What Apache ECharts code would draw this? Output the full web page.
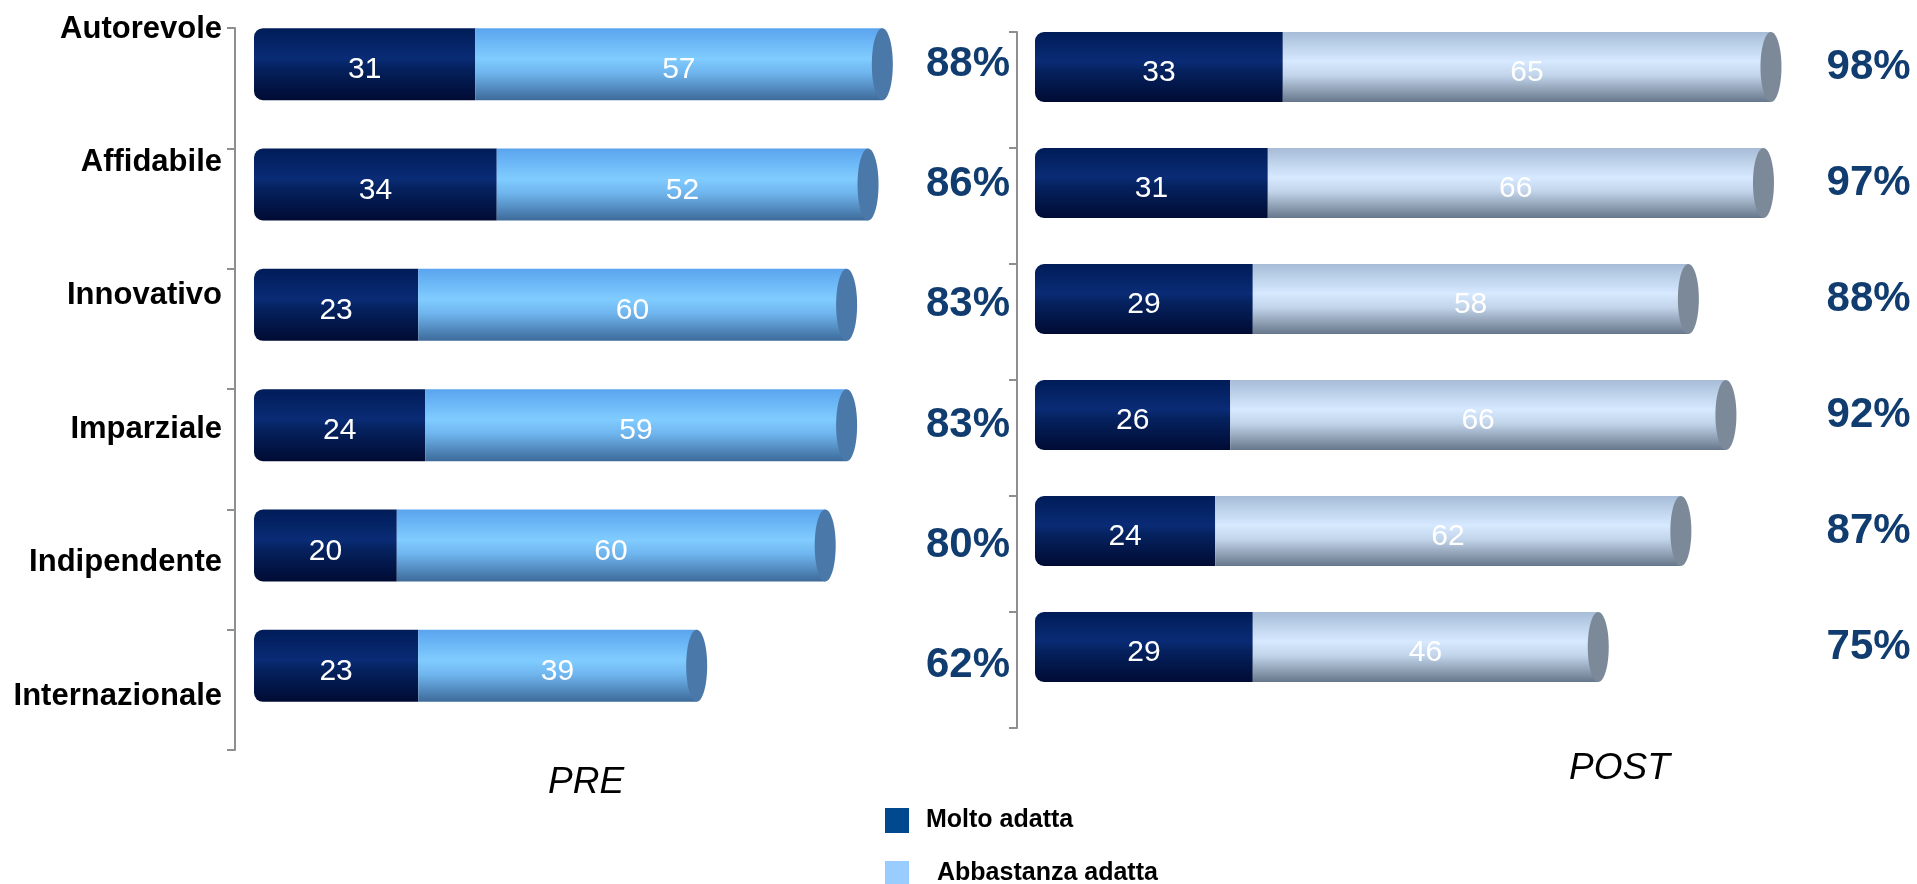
<!DOCTYPE html>
<html>
<head>
<meta charset="utf-8">
<script src="https://cdn.jsdelivr.net/npm/echarts@6/dist/echarts.min.js"></script>
<style>
html,body{margin:0;padding:0;background:#fff;}
#chart{width:1917px;height:884px;}
</style>
</head>
<body>
<div id="chart"></div>
<script>
// ---- data ----
const categories = ['Autorevole','Affidabile','Innovativo','Imparziale','Indipendente','Internazionale'];
const seriesNames = ['Molto adatta','Abbastanza adatta'];
const preMolto = [31, 34, 23, 24, 20, 23];
const preAbbastanza = [57, 52, 60, 59, 60, 39];
const preTotalLabels = ['88%','86%','83%','83%','80%','62%'];
const postMolto = [33, 31, 29, 26, 24, 29];
const postAbbastanza = [65, 66, 58, 66, 62, 46];
const postTotalLabels = ['98%','97%','88%','92%','87%','75%'];
const panelTitles = ['PRE','POST'];

// ---- styles ----
const FONT = '"Liberation Sans", Arial, sans-serif';
const grad = (stops) => new echarts.graphic.LinearGradient(0,0,0,1, stops.map((c)=>({offset:c[0], color:c[1]})));
const darkFill = () => grad([[0,'#001c58'],[0.42,'#0a2c76'],[0.55,'#05225f'],[1,'#000b33']]);
const preLightFill = () => grad([[0,'#5aa4ee'],[0.42,'#80ccff'],[0.62,'#6fb5ee'],[1,'#3d6a9a']]);
const postLightFill = () => grad([[0,'#a7bcd7'],[0.42,'#d6e9ff'],[0.62,'#c2d4ea'],[1,'#67778b']]);
const preCapColor = '#4a78a8';
const postCapColor = '#7b8999';
const pctColor = '#113c6f';

const preTotals = preMolto.map((v,i)=>v+preAbbastanza[i]);
const postTotals = postMolto.map((v,i)=>v+postAbbastanza[i]);

function capSeries(totals, gridIdx, color, barH){
  return {
    type:'custom', xAxisIndex:gridIdx, yAxisIndex:gridIdx, z:4, silent:true,
    data: totals.map((t,i)=>[t,i]),
    renderItem: function(params, api){
      const p = api.coord([api.value(0), api.value(1)]);
      return {type:'ellipse', shape:{cx:p[0], cy:p[1], rx:10.5, ry:barH/2}, style:{fill:color}};
    }
  };
}
function pctSeries(labels, gridIdx, xVal){
  return {
    type:'custom', xAxisIndex:gridIdx, yAxisIndex:gridIdx, z:4, silent:true,
    data: labels.map((t,i)=>[xVal,i]),
    renderItem: function(params, api){
      const idx = params.dataIndex;
      const p = api.coord([api.value(0), api.value(1)]);
      return {type:'text', style:{text:labels[idx], x:p[0], y:p[1], fill:pctColor,
        font:'bold 42px ' + FONT, align:'center', verticalAlign:'middle',
        textAlign:'center', textVerticalAlign:'middle'}};
    }
  };
}
function barSeries(name, data, gridIdx, stack, fill, barW, radius){
  return {
    name:name, type:'bar', stack:stack, xAxisIndex:gridIdx, yAxisIndex:gridIdx,
    data:data, barWidth:barW, z:3,
    itemStyle:{color:fill, borderRadius:radius},
    label:{show:true, position:'inside', color:'#fff', fontFamily:FONT, fontSize:30, offset:[0,6]},
    emphasis:{disabled:true}
  };
}

const chart = echarts.init(document.getElementById('chart'), null, {renderer:'canvas'});
const hiddenX = (max, gi)=>({type:'value', min:0, max:max, show:false, gridIndex:gi});
const hiddenY = (gi)=>({type:'category', data:categories, inverse:true, gridIndex:gi, show:false});
const G = (o)=>Object.assign({outerBoundsMode:'none', containLabel:false}, o);

const option = {
  animation:false,
  backgroundColor:'#ffffff',
  grid:[
    G({left:254, top:4, width:714, height:722}),   // 0 pre bars
    G({left:235, top:28, width:100, height:722}),  // 1 pre axis line
    G({left:232, top:29, width:100, height:667}),  // 2 pre category labels
    G({left:1035, top:9, width:751, height:696}),  // 3 post bars
    G({left:1017, top:32, width:100, height:696})  // 4 post axis line
  ],
  xAxis:[hiddenX(100,0), hiddenX(100,1), hiddenX(100,2), hiddenX(100,3), hiddenX(100,4)],
  yAxis:[
    hiddenY(0),
    {type:'category', data:categories, inverse:true, gridIndex:1,
     axisLine:{show:true, lineStyle:{color:'#8f8f8f', width:2}},
     axisTick:{show:true, length:8, lineStyle:{color:'#8f8f8f', width:2}},
     axisLabel:{show:false}, splitLine:{show:false}},
    {type:'category', data:categories, inverse:true, gridIndex:2, boundaryGap:false,
     axisLine:{show:false}, axisTick:{show:false},
     axisLabel:{show:true, margin:10, color:'#000', fontFamily:FONT, fontWeight:'bold', fontSize:31}},
    hiddenY(3),
    {type:'category', data:categories, inverse:true, gridIndex:4,
     axisLine:{show:true, lineStyle:{color:'#8f8f8f', width:2}},
     axisTick:{show:true, length:8, lineStyle:{color:'#8f8f8f', width:2}},
     axisLabel:{show:false}, splitLine:{show:false}}
  ],
  legend:{
    orient:'vertical', left:885, top:808, height:100, padding:0,
    itemWidth:24, itemHeight:25, itemGap:28,
    icon:'rect',
    data:[{name:seriesNames[0], itemStyle:{color:'#00498f'}},
          {name:seriesNames[1], itemStyle:{color:'#99ccff'}}],
    formatter:function(n){ return n===seriesNames[0] ? '{a|'+n+'}' : '{b|'+n+'}'; },
    textStyle:{color:'#000', fontFamily:FONT, fontWeight:'bold', fontSize:25,
      rich:{a:{padding:[0,0,0,12], fontFamily:FONT, fontWeight:'bold', fontSize:25, color:'#000'},
            b:{padding:[0,0,0,23], fontFamily:FONT, fontWeight:'bold', fontSize:25, color:'#000'}}}
  },
  graphic:[
    {type:'text', left:548, top:764, style:{text:panelTitles[0], font:'italic 37px '+FONT, fill:'#000'}},
    {type:'text', left:1569, top:750, style:{text:panelTitles[1], font:'italic 37px '+FONT, fill:'#000'}}
  ],
  series:[
    barSeries(seriesNames[0], preMolto, 0, 'pre', darkFill(), 72, [9,0,0,9]),
    barSeries(seriesNames[1], preAbbastanza, 0, 'pre', preLightFill(), 72, 0),
    capSeries(preTotals, 0, preCapColor, 72),
    pctSeries(preTotalLabels, 0, 100),
    barSeries(seriesNames[0], postMolto, 3, 'post', darkFill(), 70, [9,0,0,9]),
    barSeries(seriesNames[1], postAbbastanza, 3, 'post', postLightFill(), 70, 0),
    capSeries(postTotals, 3, postCapColor, 70),
    pctSeries(postTotalLabels, 3, 111)
  ]
};
chart.setOption(option);
</script>
</body>
</html>
